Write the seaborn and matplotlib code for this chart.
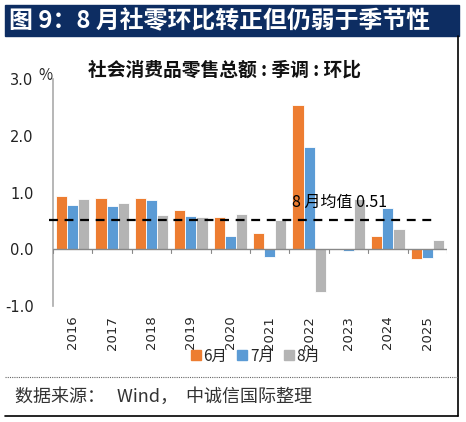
import numpy as np
import pandas as pd
import seaborn as sns
import matplotlib.pyplot as plt
from matplotlib.lines import Line2D
from matplotlib.patches import Rectangle

# 数据
years = ['2016', '2017', '2018', '2019', '2020', '2021', '2022', '2023', '2024', '2025']
jun = [0.93, 0.90, 0.90, 0.70, 0.56, 0.28, 2.54, 0.01, 0.23, -0.17]
jul = [0.78, 0.77, 0.87, 0.58, 0.23, -0.13, 1.81, -0.03, 0.73, -0.15]
aug = [0.88, 0.82, 0.61, 0.56, 0.62, 0.51, -0.76, 0.89, 0.35, 0.17]
months = ['6月', '7月', '8月']
aug_mean = 0.51

colors = ['#ED7D31', '#5B9BD5', '#B4B4B4']

df = pd.DataFrame({'年份': years * 3,
                   '月份': [m for m in months for _ in years],
                   '环比': jun + jul + aug})

sns.set_theme(style='white')
plt.rcParams['font.family'] = ['Noto Sans CJK SC', 'DejaVu Sans']
plt.rcParams['axes.unicode_minus'] = False

fig = plt.figure(figsize=(4.66, 4.22), dpi=100)
ax = fig.add_axes([53 / 466, 1 - 306 / 422, 394 / 466, 227 / 422])

sns.barplot(data=df, x='年份', y='环比', hue='月份', palette=colors, saturation=1,
            width=0.85, edgecolor='white', linewidth=0.6, ax=ax, legend=False)

ax.set_ylim(-1, 3)
ax.set_xlim(-0.5, 9.5)
ax.set_yticks([-1, 0, 1, 2, 3])
ax.set_yticklabels(['-1.0', '0.0', '1.0', '2.0', '3.0'], fontsize=10.5,
                   family='DejaVu Sans', color='#222222')
ax.tick_params(axis='y', direction='in', length=4, color='#999999', pad=14)
ax.set_xticks(range(len(years)))
ax.set_xticklabels(years, rotation=90, fontsize=9.5, family='DejaVu Sans')
ax.tick_params(axis='x', length=0, pad=7)
ax.set_xlabel('')
ax.set_ylabel('')
for s in ['top', 'right', 'bottom']:
    ax.spines[s].set_visible(False)
ax.spines['left'].set_color('#AAAAAA')
ax.spines['left'].set_linewidth(1.2)

# 零轴及分隔刻度
ax.axhline(0, color='#888888', lw=1.0, zorder=3)
for b in np.arange(-0.5, 10, 1.0):
    ax.plot([b, b], [0, -0.07], color='#888888', lw=0.8, zorder=3)

# 8月均值
ax.plot([-0.6, 9.2], [aug_mean, aug_mean], ls=(0, (4, 3)), color='black',
        lw=1.6, zorder=4, clip_on=False)
ax.text(6.78, 0.68, '8 月均值 0.51', ha='center', va='bottom', fontsize=11.5,
        color='black')

fig.text(225 / 466, 1 - 70 / 422, '社会消费品零售总额 : 季调 : 环比',
         ha='center', va='center', fontsize=13.5, fontweight='bold', color='#111111')
fig.text(38 / 466, 1 - 75 / 422, '%', fontsize=11, ha='left', va='center')

# 图例
handles = [Line2D([], [], marker='s', ls='', color=c, markersize=7) for c in colors]
fig.legend(handles, months, loc='center', bbox_to_anchor=(255 / 466, 1 - 356 / 422),
           ncol=3, frameon=False, fontsize=11, handletextpad=0.1, columnspacing=0.6,
           handlelength=0.8)

# 标题栏
fig.patches.append(Rectangle((5 / 466, 1 - 36 / 422), 454 / 466, 31 / 422,
                             transform=fig.transFigure, color='#0D2D62', zorder=0))
fig.text(9 / 466, 1 - 21 / 422, '图 9：8 月社零环比转正但仍弱于季节性', color='white',
         fontsize=17.2, fontweight='bold', va='center', ha='left')

# 边框线
fig.add_artist(Line2D([458 / 466, 458 / 466], [1 - 36 / 422, 1 - 416 / 422],
                      color='black', lw=1.2, transform=fig.transFigure))
fig.add_artist(Line2D([5 / 466, 458 / 466], [1 - 416 / 422, 1 - 416 / 422],
                      color='black', lw=1.2, transform=fig.transFigure))
fig.add_artist(Line2D([5 / 466, 458 / 466], [1 - 377 / 422, 1 - 377 / 422],
                      color='#666666', lw=0.8, ls=(0, (1, 1)), transform=fig.transFigure))

fig.text(15 / 466, 1 - 397 / 422, '数据来源：   Wind，  中诚信国际整理', fontsize=13,
         color='#333333', va='center', ha='left')

fig.savefig('out.png', dpi=100)
